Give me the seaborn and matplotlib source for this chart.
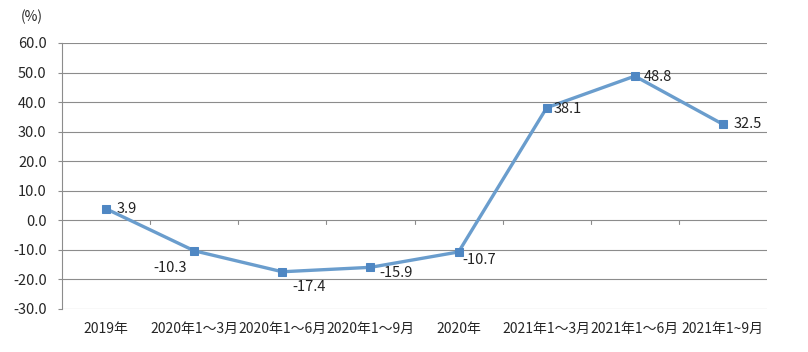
import pandas as pd
import seaborn as sns
import matplotlib.pyplot as plt

periods = ["2019年", "2020年1～3月", "2020年1～6月", "2020年1～9月", "2020年",
           "2021年1～3月", "2021年1～6月", "2021年1~9月"]
growth = [3.9, -10.3, -17.4, -15.9, -10.7, 38.1, 48.8, 32.5]
# label offsets in pixels (dx, dy) relative to each point
label_offsets = [(21, 0), (-24, -17), (27, -15), (26, -6), (21, -8), (21, -1), (23, -1), (25, 0)]

df = pd.DataFrame({"period": periods, "growth": growth, "pos": range(len(periods))})

sns.set_style("white")
plt.rcParams["font.family"] = ["Noto Sans CJK SC", "DejaVu Sans"]

fig = plt.figure(figsize=(8.08, 3.52), dpi=100)
ax = fig.add_axes([62 / 808, 1 - 309 / 352, 705 / 808, 266 / 352])

ax.set_ylim(-30, 60)
ax.set_xlim(-0.5, len(periods) - 0.5)
ax.set_yticks(range(-30, 61, 10))
ax.set_yticklabels([f"{v:.1f}" for v in range(-30, 61, 10)], fontsize=10.5)
ax.yaxis.grid(True, color="#8c8c8c", linewidth=0.8)
ax.set_axisbelow(True)

sns.lineplot(data=df, x="pos", y="growth", ax=ax, color="#6a9dcd", linewidth=2.4,
             marker="s", markersize=6, markeredgecolor="#4f87c3", markerfacecolor="#4f87c3")

for i, v in enumerate(growth):
    dx, dy = label_offsets[i]
    ax.annotate(f"{v:.1f}", (i, v), xytext=(dx, dy), textcoords="offset pixels",
                ha="center", va="center", fontsize=10.5, color="#222222")

# category separators on the zero line
for b in range(1, len(periods)):
    ax.plot([b - 0.5, b - 0.5], [0, -1.3], color="#8c8c8c", linewidth=0.8)

ax.set_xticks(range(len(periods)))
ax.set_xticklabels(periods, fontsize=10)
ax.tick_params(axis="x", length=0, pad=9)
ax.tick_params(axis="y", length=3, color="#8c8c8c", left=True, pad=8)
for s in ["top", "right", "bottom"]:
    ax.spines[s].set_visible(False)
ax.spines["left"].set_color("#8c8c8c")
ax.spines["left"].set_linewidth(0.8)
ax.set_xlabel("")
ax.set_ylabel("")

fig.text(32 / 808, 1 - 17 / 352, "(%)", ha="center", va="center", fontsize=10)

fig.savefig("out.png", dpi=100, facecolor="white")
